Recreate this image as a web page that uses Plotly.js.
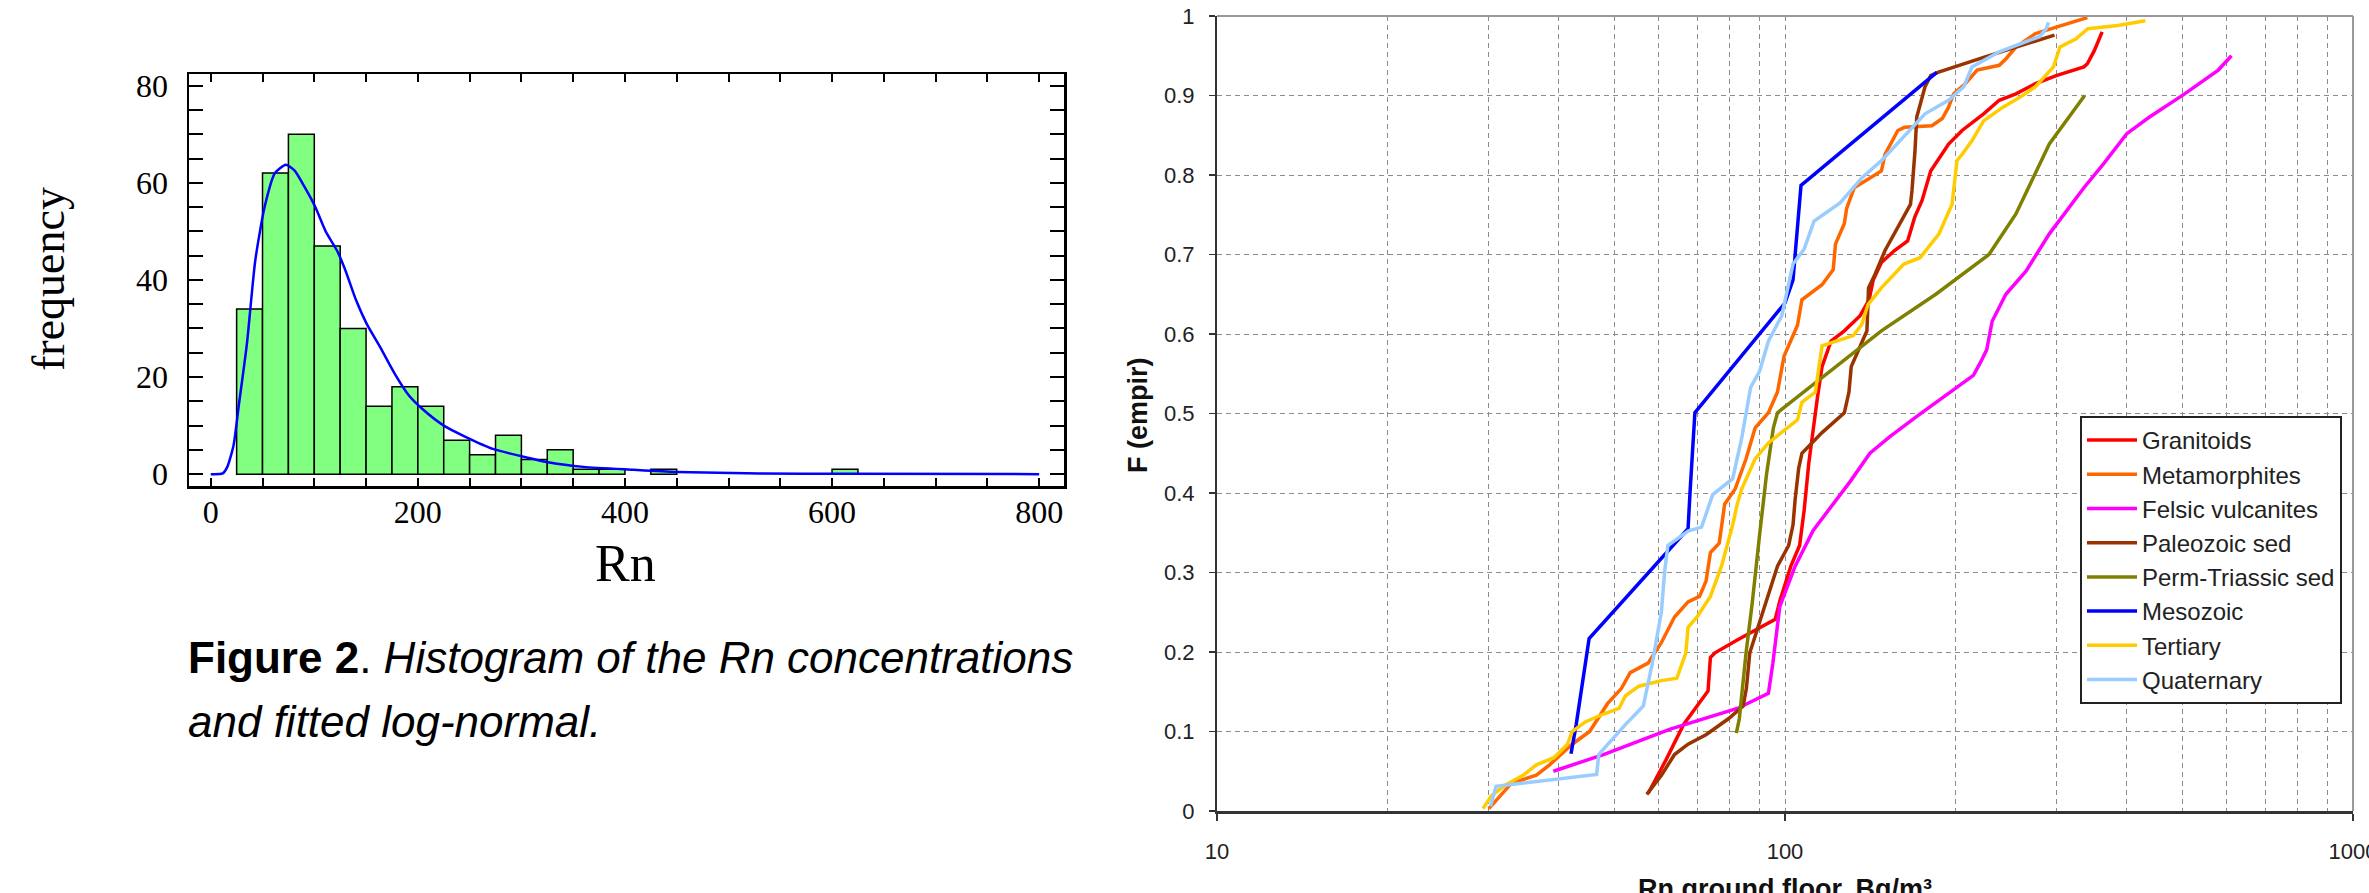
<!DOCTYPE html>
<html>
<head>
<meta charset="utf-8">
<script src="https://cdn.plot.ly/plotly-3.0.1.min.js"></script>
<style>
html,body{margin:0;padding:0;background:#fff;overflow:hidden;}
#chart{width:2369px;height:893px;}
</style>
</head>
<body>
<div id="chart"></div>
<script>
// ---------- Left panel: histogram of Rn ----------
const rnBinMid = [37.5, 62.5, 87.5, 112.5, 137.5, 162.5, 187.5, 212.5, 237.5, 262.5, 287.5, 312.5, 337.5, 362.5, 387.5, 437.5, 612.5];
const rnCounts = [34, 62, 70, 47, 30, 14, 18, 14, 7, 4, 8, 3, 5, 1, 1, 1, 1];
const fitX = [0, 11.5, 16, 22, 27, 35, 43, 52, 62, 72.5, 81, 91, 101, 111, 122, 130, 140, 150.5, 164, 177.6, 191, 205, 225, 245, 272.5, 300, 327, 360, 408, 449, 530, 611, 800];
const fitY = [0, 0.15, 1.5, 5.9, 14, 27, 44, 55, 62, 63.7, 62.5, 59, 55, 50, 46, 42, 36, 31, 26, 20.7, 16.3, 13.3, 10, 7.8, 5.2, 3.7, 2.4, 1.5, 0.9, 0.45, 0.15, 0.07, 0];
const histXTicks = [0, 200, 400, 600, 800];
const histYTicks = [0, 20, 40, 60, 80];

// ---------- Right panel: empirical CDFs ----------
const seriesNames = ["Granitoids", "Metamorphites", "Felsic vulcanites", "Paleozoic sed", "Perm-Triassic sed", "Mesozoic", "Tertiary", "Quaternary"];
const seriesColors = ["#FF0000", "#FF6600", "#FF00FF", "#993300", "#808000", "#0000FF", "#FFCC00", "#99CCFF"];

const granitoidsX = [57.4, 61.7, 66.3, 71.3, 73.2, 73.9, 75.3, 82.4, 90.2, 96.1, 97.9, 102.4, 106.1, 108.1, 110.1, 112.1, 114.1, 116.2, 120.5, 127.2, 135.6, 140.6, 143, 147.8, 155.9, 164.4, 169.2, 174.3, 180.5, 194.1, 205, 223.7, 238.3, 255, 276.1, 300.3, 335.9, 340.7, 350.7, 361.7];
const granitoidsF = [0.022, 0.064, 0.109, 0.141, 0.151, 0.193, 0.199, 0.215, 0.231, 0.241, 0.264, 0.308, 0.334, 0.379, 0.437, 0.482, 0.521, 0.559, 0.591, 0.604, 0.623, 0.643, 0.668, 0.69, 0.705, 0.717, 0.747, 0.768, 0.805, 0.839, 0.856, 0.877, 0.894, 0.902, 0.915, 0.925, 0.936, 0.94, 0.957, 0.98];

const metamorphitesX = [30.1, 31.6, 33.0, 36.5, 38.5, 42.2, 45.3, 48.7, 51.5, 53.4, 57.4, 60.6, 63.9, 67.5, 70.7, 72.6, 73.9, 76.6, 78.3, 81.7, 85.4, 88.6, 93.5, 97.0, 99.6, 105.2, 107.1, 116.2, 121.6, 122.7, 127.2, 128.4, 132.4, 147.8, 150, 158, 162.3, 181.4, 189.2, 194, 198, 207.8, 217.9, 238.3, 244.8, 255, 276.1, 300.3, 335.9, 340.7];
const metamorphitesF = [0.003, 0.02, 0.035, 0.045, 0.058, 0.084, 0.1, 0.135, 0.154, 0.174, 0.186, 0.212, 0.244, 0.263, 0.27, 0.289, 0.325, 0.337, 0.386, 0.405, 0.443, 0.482, 0.501, 0.527, 0.572, 0.611, 0.643, 0.662, 0.681, 0.713, 0.739, 0.758, 0.784, 0.805, 0.826, 0.856, 0.86, 0.862, 0.871, 0.885, 0.902, 0.915, 0.932, 0.938, 0.946, 0.961, 0.978, 0.986, 0.997, 0.998];

const felsicX = [39.1, 47.9, 62.8, 82.4, 93.5, 95.2, 97.9, 104.2, 112.1, 125, 130.1, 141.1, 153.0, 170.4, 195.2, 214.6, 220.4, 226.5, 231.6, 244.8, 265.6, 292, 335.9, 363.7, 399.7, 438.3, 505.4, 579.1, 611];
const felsicF = [0.05, 0.071, 0.103, 0.129, 0.148, 0.186, 0.257, 0.308, 0.353, 0.398, 0.414, 0.45, 0.471, 0.496, 0.527, 0.548, 0.563, 0.58, 0.616, 0.65, 0.679, 0.726, 0.784, 0.814, 0.852, 0.873, 0.902, 0.932, 0.95];

const paleozoicX = [57.1, 60.6, 63.9, 67.5, 72.6, 79.5, 84.4, 85.5, 86.7, 90.2, 93.5, 97.0, 101.5, 103.3, 104.2, 105.7, 107.1, 116.2, 127.2, 129.6, 130.8, 134.3, 139.4, 140.3, 144, 150, 158, 166.3, 167.3, 168.4, 169.4, 170.6, 176.4, 180.5, 185.8, 223.7, 255, 298.2];
const paleozoicF = [0.021, 0.045, 0.071, 0.084, 0.096, 0.116, 0.132, 0.154, 0.199, 0.238, 0.27, 0.308, 0.334, 0.36, 0.392, 0.431, 0.45, 0.476, 0.501, 0.527, 0.559, 0.578, 0.604, 0.658, 0.675, 0.705, 0.734, 0.763, 0.78, 0.801, 0.831, 0.873, 0.911, 0.925, 0.929, 0.948, 0.961, 0.976];

const permTriassicX = [82.1, 83.1, 85.4, 87.6, 90.2, 92.8, 95.4, 97.0, 147.8, 184.3, 228.6, 255, 292, 337];
const permTriassicF = [0.098, 0.116, 0.199, 0.263, 0.347, 0.424, 0.482, 0.501, 0.604, 0.65, 0.7, 0.751, 0.839, 0.9];

const mesozoicX = [42, 42.9, 45.2, 67.5, 68.1, 69.4, 100, 103.3, 106.7, 185];
const mesozoicF = [0.072, 0.109, 0.217, 0.355, 0.405, 0.501, 0.639, 0.668, 0.787, 0.929];

const tertiaryX = [29.4, 30.4, 32.1, 34.6, 36.5, 39.2, 41.4, 42.2, 44.5, 47.9, 51.0, 52.4, 55.3, 60.6, 64.5, 66.9, 67.5, 70.0, 73.9, 77.3, 80.9, 82.4, 83.9, 88.6, 93.5, 98.7, 105.2, 107.1, 113.1, 116.2, 122.7, 131.9, 136.5, 140, 147.8, 161.9, 172.9, 186.7, 196.8, 200.8, 205, 213.4, 223.7, 241.6, 259.5, 276, 296.9, 304.9, 325, 341.4, 385, 431];
const tertiaryF = [0.003, 0.019, 0.032, 0.045, 0.058, 0.067, 0.084, 0.1, 0.112, 0.122, 0.129, 0.145, 0.157, 0.164, 0.167, 0.199, 0.231, 0.244, 0.27, 0.308, 0.36, 0.386, 0.405, 0.443, 0.463, 0.476, 0.492, 0.514, 0.527, 0.585, 0.591, 0.598, 0.612, 0.637, 0.658, 0.688, 0.696, 0.726, 0.763, 0.818, 0.826, 0.843, 0.868, 0.885, 0.898, 0.911, 0.936, 0.961, 0.971, 0.984, 0.988, 0.994];

const quaternaryX = [30.3, 31.0, 46.6, 47.0, 52.4, 56.3, 58.4, 60.6, 61.4, 62.2, 67.5, 71.3, 74.6, 80.9, 83.9, 87.0, 90.2, 93.5, 98.7, 103.3, 108.1, 112.5, 125, 136.8, 147.8, 176.4, 194, 206.4, 213.4, 238.3, 280.6, 288.4, 291];
const quaternaryF = [0.006, 0.031, 0.046, 0.071, 0.109, 0.132, 0.186, 0.251, 0.302, 0.334, 0.352, 0.357, 0.398, 0.418, 0.469, 0.533, 0.553, 0.591, 0.623, 0.688, 0.707, 0.742, 0.765, 0.797, 0.818, 0.877, 0.894, 0.911, 0.936, 0.955, 0.974, 0.984, 0.992];

const cdfXTicks = [10, 100, 1000];
const cdfXMinor = [20, 30, 40, 50, 60, 70, 80, 90, 200, 300, 400, 500, 600, 700, 800, 900];

const seriesX = [granitoidsX, metamorphitesX, felsicX, paleozoicX, permTriassicX, mesozoicX, tertiaryX, quaternaryX];
const seriesF = [granitoidsF, metamorphitesF, felsicF, paleozoicF, permTriassicF, mesozoicF, tertiaryF, quaternaryF];

// ---------- helpers ----------
const W = 2369, H = 893;
const dx = (a, b) => [a / W, b / W];
const dy = (top, bottom) => [1 - bottom / H, 1 - top / H];
const px = v => v / W;
const py = v => 1 - v / H;

function hasFont(name) {
  const c = document.createElement('canvas').getContext('2d');
  const s = 'abcdefghijklmnopqrstuvwxyzABCDEFG';
  c.font = '40px monospace';
  const w1 = c.measureText(s).width;
  c.font = '40px "' + name + '", monospace';
  const w2 = c.measureText(s).width;
  return Math.abs(w1 - w2) > 0.5;
}
const narrow = hasFont('Liberation Sans Narrow');
const captionFont = narrow
  ? {family: '"Liberation Sans Narrow", "Liberation Sans", Arial, sans-serif', size: 53, color: '#000'}
  : {family: '"Liberation Sans", Arial, sans-serif', size: 44, color: '#000'};

const serif = '"Liberation Serif", "Times New Roman", serif';
const sans = '"Liberation Sans", Arial, sans-serif';

// ---------- traces ----------
const traces = [];
traces.push({
  type: 'bar', x: rnBinMid, y: rnCounts, width: 25,
  marker: {color: '#80FF80', line: {color: '#000', width: 1.5}},
  xaxis: 'x', yaxis: 'y', showlegend: false, hoverinfo: 'skip'
});
traces.push({
  type: 'scatter', mode: 'lines', x: fitX, y: fitY,
  line: {color: '#0000FF', width: 2.5, shape: 'spline', smoothing: 0.6},
  xaxis: 'x', yaxis: 'y', showlegend: false, hoverinfo: 'skip'
});
for (let i = 0; i < seriesNames.length; i++) {
  traces.push({
    type: 'scatter', mode: 'lines', name: seriesNames[i],
    x: seriesX[i], y: seriesF[i],
    line: {color: seriesColors[i], width: 3.5},
    xaxis: 'x2', yaxis: 'y2', legendgroup: 'g' + i, showlegend: true
  });
}

// ---------- layout ----------
const gridDash = '5px,4px';
const layout = {
  width: W, height: H,
  margin: {l: 0, r: 0, t: 0, b: 0},
  paper_bgcolor: '#fff', plot_bgcolor: '#fff',
  showlegend: true,
  bargap: 0,
  xaxis: {
    domain: dx(189, 1064), range: [-21, 824], anchor: 'y',
    showline: true, linecolor: '#000', linewidth: 2.5, mirror: 'ticks',
    ticks: 'inside', ticklen: 8, tickwidth: 2, tickcolor: '#000',
    tickmode: 'array', tickvals: histXTicks,
    minor: {dtick: 50, tick0: 0, ticks: 'inside', ticklen: 8, tickwidth: 2, tickcolor: '#000', showgrid: false},
    showgrid: false, zeroline: false,
    tickfont: {family: serif, size: 32, color: '#000'},
    ticklabelstandoff: -4
  },
  yaxis: {
    domain: dy(74, 486), range: [-2.44, 82.4], anchor: 'x',
    showline: true, linecolor: '#000', linewidth: 2.5, mirror: 'ticks',
    ticks: 'inside', ticklen: 14, tickwidth: 2, tickcolor: '#000',
    tickmode: 'array', tickvals: histYTicks,
    minor: {dtick: 5, tick0: 0, ticks: 'inside', ticklen: 14, tickwidth: 2, tickcolor: '#000', showgrid: false},
    showgrid: false, zeroline: false,
    tickfont: {family: serif, size: 32, color: '#000'},
    ticklabelstandoff: 12
  },
  xaxis2: {
    type: 'log', domain: dx(1217, 2353), range: [1, 3], anchor: 'y2',
    showline: true, linecolor: '#333', linewidth: 3,
    ticks: 'outside', ticklen: 7, tickwidth: 1.5, tickcolor: '#333',
    tickmode: 'array', tickvals: cdfXTicks, ticktext: cdfXTicks.map(String),
    showgrid: true, gridcolor: '#8c8c8c', gridwidth: 1, griddash: gridDash,
    minor: {tickmode: 'array', tickvals: cdfXMinor, ticks: '', showgrid: true, gridcolor: '#8c8c8c', gridwidth: 1, griddash: gridDash},
    zeroline: false,
    ticklabeloverflow: 'allow',
    tickfont: {family: sans, size: 22, color: '#222'},
    ticklabelstandoff: 12
  },
  yaxis2: {
    domain: dy(16, 811), range: [0, 1], anchor: 'x2',
    showline: true, linecolor: '#333', linewidth: 2,
    ticks: 'outside', ticklen: 6, tickwidth: 1.5, tickcolor: '#333',
    dtick: 0.1, tick0: 0,
    showgrid: true, gridcolor: '#8c8c8c', gridwidth: 1, griddash: gridDash,
    zeroline: false,
    tickfont: {family: sans, size: 22, color: '#222'},
    ticklabelstandoff: 10
  },
  legend: {
    x: px(2080), y: py(416), xanchor: 'left', yanchor: 'top',
    bgcolor: '#fff', bordercolor: '#222', borderwidth: 2,
    font: {family: sans, size: 24, color: '#222'},
    tracegroupgap: 9, itemwidth: 50, traceorder: 'normal'
  },
  shapes: [
    {type: 'line', xref: 'x2 domain', yref: 'y2 domain', x0: 0, x1: 1, y0: 1, y1: 1, line: {color: '#999', width: 2}},
    {type: 'line', xref: 'x2 domain', yref: 'y2 domain', x0: 1, x1: 1, y0: 0, y1: 1, line: {color: '#999', width: 2}}
  ],
  annotations: [
    {text: 'Rn', xref: 'paper', yref: 'paper', x: px(625), y: py(563), xanchor: 'center', yanchor: 'middle',
     showarrow: false, font: {family: serif, size: 52, color: '#000'}},
    {text: 'frequency', xref: 'paper', yref: 'paper', x: px(48), y: py(279), xanchor: 'center', yanchor: 'middle',
     textangle: -90, showarrow: false, font: {family: serif, size: 46, color: '#000'}},
    {text: '<b>Figure 2</b>. <i>Histogram of the Rn concentrations</i>', xref: 'paper', yref: 'paper',
     x: px(186), y: py(657), xanchor: 'left', yanchor: 'middle', align: 'left', showarrow: false, font: captionFont},
    {text: '<i>and fitted log-normal.</i>', xref: 'paper', yref: 'paper',
     x: px(186), y: py(721), xanchor: 'left', yanchor: 'middle', align: 'left', showarrow: false, font: captionFont},
    {text: '<b>F (empir)</b>', xref: 'paper', yref: 'paper', x: px(1138), y: py(415), xanchor: 'center', yanchor: 'middle',
     textangle: -90, showarrow: false, font: {family: sans, size: 27, color: '#111'}},
    {text: '<b>Rn ground floor, Bq/m³</b>', xref: 'paper', yref: 'paper', x: px(1785), y: py(872), xanchor: 'center', yanchor: 'top',
     showarrow: false, font: {family: sans, size: 27, color: '#111'}}
  ]
};

Plotly.newPlot('chart', traces, layout, {staticPlot: true, displayModeBar: false});
</script>
</body>
</html>
